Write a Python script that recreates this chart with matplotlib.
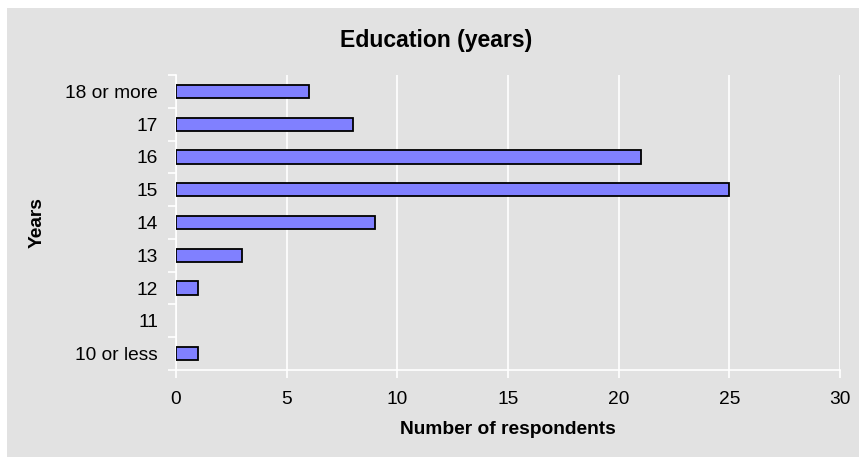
import numpy as np
import matplotlib
matplotlib.use("Agg")
import matplotlib.pyplot as plt
from matplotlib.patches import Rectangle

plt.rcParams['font.family'] = ['Liberation Sans', 'DejaVu Sans']

years = ["10 or less", "11", "12", "13", "14", "15", "16", "17", "18 or more"]
respondents = [1, 0, 1, 3, 9, 25, 21, 8, 6]
x_ticks = [0, 5, 10, 15, 20, 25, 30]

bg = "#E2E2E2"
bar_color = "#8080FF"

fig = plt.figure(figsize=(8.59, 4.57), dpi=100)
fig.patch.set_facecolor("white")
# gray chart area, leaving a thin white strip on the top and left
fig.add_artist(Rectangle((7 / 859, 0), 1 - 7 / 859, 1 - 8 / 457,
                         transform=fig.transFigure, facecolor=bg,
                         edgecolor="none", zorder=-10))

ax = fig.add_axes([176 / 859, 1 - 370 / 457, 664 / 859, 295 / 457])
ax.set_facecolor(bg)
ax.set_zorder(1)

pos = np.arange(len(years))
# empty categories get no outline
edge_widths = [1.3 if v > 0 else 0 for v in respondents]
ax.barh(pos, respondents, height=0.4, color=bar_color,
        edgecolor="black", linewidth=edge_widths, zorder=3)

ax.set_xlim(0, 30)
ax.set_ylim(-0.5, len(years) - 0.5)
ax.set_xticks(x_ticks)
ax.set_xticklabels([str(t) for t in x_ticks], fontsize=13.8)
ax.xaxis.grid(True, color="white", linewidth=1.2, zorder=1)
ax.set_axisbelow(True)

# labels centred on the bars, tick marks on the category boundaries
ax.set_yticks(pos)
ax.set_yticklabels(years, fontsize=13.8)
ax.tick_params(axis="y", which="major", length=0, pad=13)
ax.set_yticks(np.arange(-0.5, len(years)), minor=True)
ax.tick_params(axis="y", which="minor", length=6, color="white", width=1.2)
ax.tick_params(axis="x", length=6, color="white", width=1.2, pad=9)

for side in ["top", "right"]:
    ax.spines[side].set_visible(False)
for side in ["left", "bottom"]:
    ax.spines[side].set_color("white")
    ax.spines[side].set_linewidth(1.2)

fig.text(436 / 859, 1 - 41 / 457, "Education (years)", fontsize=16.6,
         fontweight="bold", ha="center", va="center")
fig.text(508 / 859, 1 - 430 / 457, "Number of respondents", fontsize=13.8,
         fontweight="bold", ha="center", va="center")
fig.text(37 / 859, 1 - 223 / 457, "Years", fontsize=13.8, fontweight="bold",
         rotation=90, ha="center", va="center")

fig.savefig("out.png", dpi=100, facecolor=fig.get_facecolor())
